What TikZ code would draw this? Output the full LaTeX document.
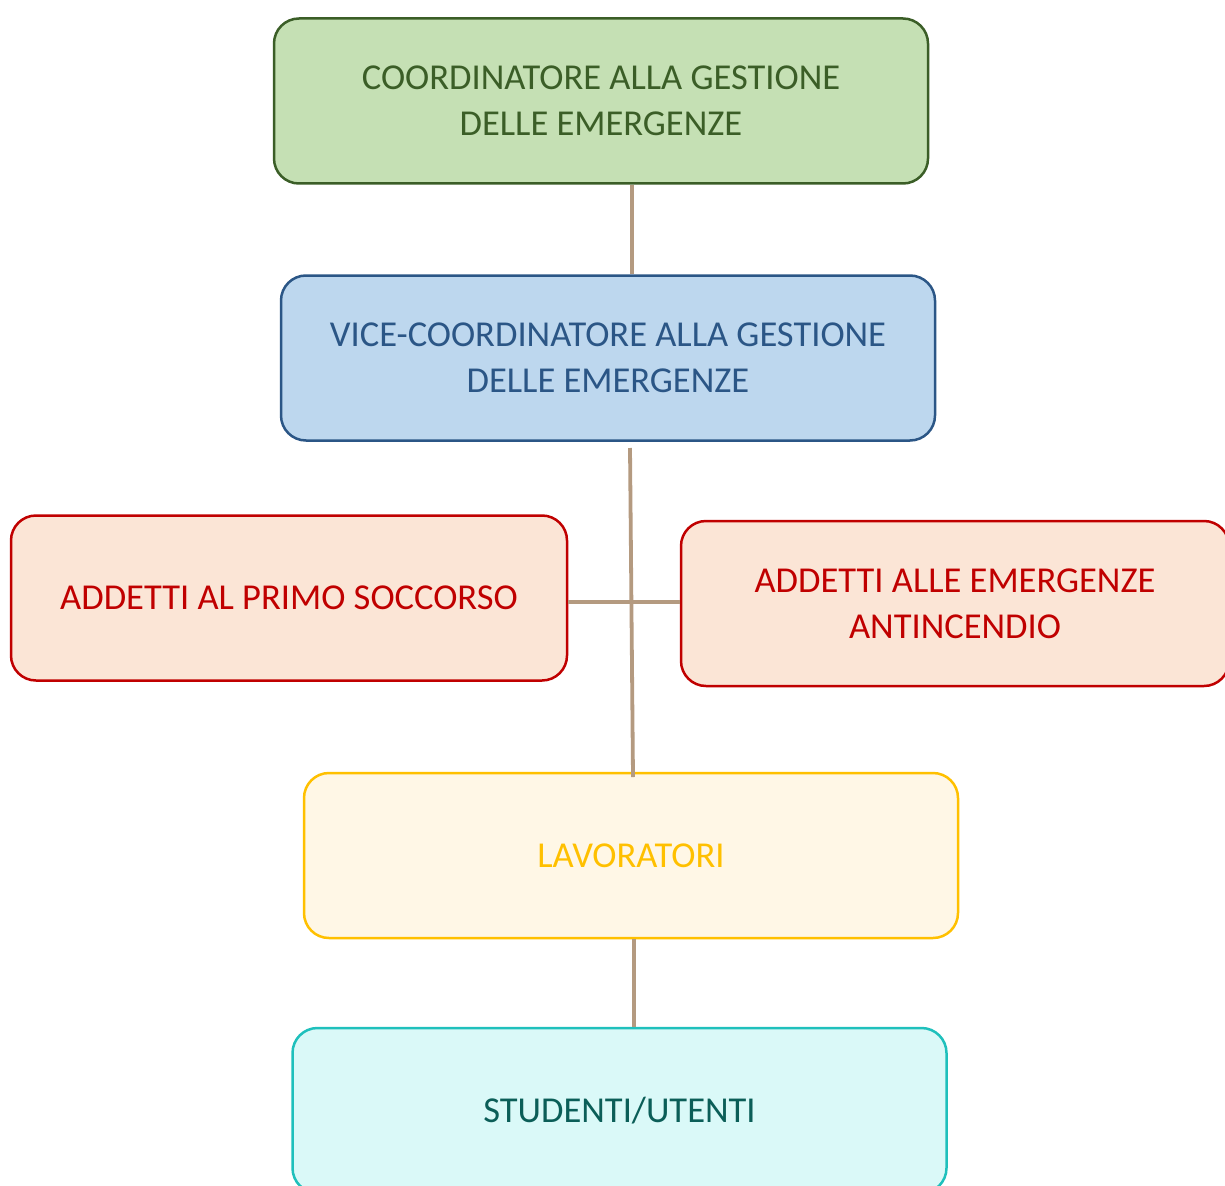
\documentclass[tikz,border=0pt]{standalone}
\usepackage{fontspec}
\setmainfont{Carlito}
\usepackage{xcolor}
\usetikzlibrary{positioning}

\definecolor{coordfill}{HTML}{C5E0B4}
\definecolor{coorddraw}{HTML}{3B5E27}
\definecolor{vicefill}{HTML}{BDD7EE}
\definecolor{vicedraw}{HTML}{2B5686}
\definecolor{addfill}{HTML}{FBE5D6}
\definecolor{adddraw}{HTML}{C00000}
\definecolor{lavfill}{HTML}{FFF7E6}
\definecolor{lavdraw}{HTML}{FFC000}
\definecolor{studfill}{HTML}{DAF9F8}
\definecolor{studdraw}{HTML}{1FC0BC}
\definecolor{studtext}{HTML}{0B5E58}
\definecolor{linkc}{HTML}{B49A80}

\begin{document}
\begin{tikzpicture}[x=1pt,y=-1pt,
	box/.style={draw, rounded corners=25pt, line width=2.5pt, minimum width=654pt, minimum height=165pt, inner sep=0pt, align=center, font=\fontsize{36.5}{46}\selectfont},
	link/.style={draw=linkc, line width=3.8pt}]
	\clip (0,0) rectangle (1225,1185);
	\node [box, fill=coordfill, draw=coorddraw, text=coorddraw] (coord) at (601,101) {COORDINATORE ALLA GESTIONE\\DELLE EMERGENZE};
	\node [box, fill=vicefill, draw=vicedraw, text=vicedraw] (vice) at (608,358) {VICE-COORDINATORE ALLA GESTIONE\\DELLE EMERGENZE};
	\node [box, fill=addfill, draw=adddraw, text=adddraw, minimum width=556pt] (primo) at (289,598) {ADDETTI AL PRIMO SOCCORSO};
	\node [box, fill=addfill, draw=adddraw, text=adddraw, minimum width=548pt] (anti) at (955,603.5) {ADDETTI ALLE EMERGENZE\\ANTINCENDIO};
	\node [box, fill=lavfill, draw=lavdraw, text=lavdraw] (lav) at (631,855.5) {LAVORATORI};
	\node [box, fill=studfill, draw=studdraw, text=studtext] (stud) at (619.5,1110.5) {STUDENTI/UTENTI};
	% connectors
	\coordinate (top) at (630,448);
	\coordinate (bot) at (633,777);
	\coordinate (mid) at (630,602);
	\draw [link] (coord.south -| 632,0) -- (vice.north -| 632,0);
	\draw [link] (top) -- (bot);
	\draw [link] (primo.east |- mid) -- (anti.west |- mid);
	\draw [link] (lav.south -| 634,0) -- (stud.north -| 634,0);
\end{tikzpicture}
\end{document}
